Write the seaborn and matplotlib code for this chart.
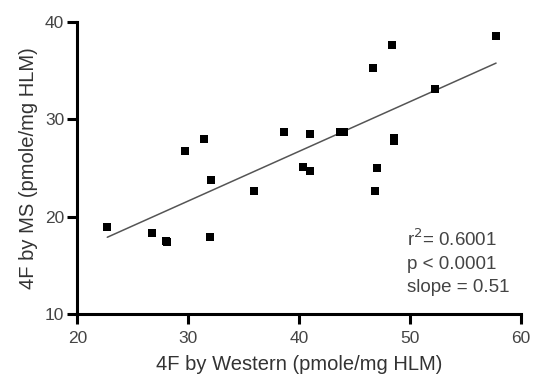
import numpy as np
import pandas as pd
import matplotlib
matplotlib.use("Agg")
import matplotlib.pyplot as plt
import seaborn as sns

# 4F measured by Western blot vs. by mass spectrometry
western = [57.75, 48.4, 46.7, 52.2, 43.7, 44.0, 41.0, 38.6, 31.4, 29.7,
           48.55, 48.55, 40.35, 40.95, 47.0, 32.05, 35.9, 46.85, 22.7, 26.7,
           27.95, 28.1, 32.0]
ms = [38.55, 37.6, 35.25, 33.1, 28.7, 28.7, 28.45, 28.7, 27.95, 26.7,
      27.8, 28.05, 25.1, 24.65, 24.95, 23.75, 22.6, 22.6, 18.9, 18.35,
      17.5, 17.4, 17.95]

# Linear regression results
r2 = 0.6001
p_text = "p < 0.0001"
slope = 0.51
intercept = 6.3

x_ticks = [20, 30, 40, 50, 60]
y_ticks = [10, 20, 30, 40]

sns.set_theme(style="ticks")
plt.rcParams["font.family"] = ["Liberation Sans", "DejaVu Sans"]

df = pd.DataFrame({"western": western, "ms": ms})

fig = plt.figure(figsize=(5.34, 3.79), dpi=100)
ax = fig.add_axes([0.1448, 0.1715, 0.8309, 0.7712])

# Fitted line over the range of the data
fx = np.array([min(western), max(western)])
fit = pd.DataFrame({"x": fx, "y": slope * fx + intercept})
sns.lineplot(data=fit, x="x", y="y", ax=ax, color="#555555", linewidth=1.1)

sns.scatterplot(data=df, x="western", y="ms", ax=ax, marker="s", s=30,
                color="black", edgecolor="black", linewidth=0, zorder=3)

ax.set_xlim(20, 60)
ax.set_ylim(10, 40)
ax.set_xticks(x_ticks)
ax.set_yticks(y_ticks)
ax.set_xlabel("4F by Western (pmole/mg HLM)", fontsize=14.5, color="#333333",
              labelpad=7)
ax.set_ylabel("4F by MS (pmole/mg HLM)", fontsize=14.5, color="#333333",
              labelpad=5)

for side in ("top", "right"):
    ax.spines[side].set_visible(False)
for side in ("left", "bottom"):
    ax.spines[side].set_linewidth(2.2)
    ax.spines[side].set_color("black")
ax.tick_params(axis="both", which="major", length=7, width=2.2,
               color="black", labelsize=12.5, labelcolor="#444444")
ax.tick_params(axis="x", pad=5)
ax.tick_params(axis="y", pad=2.5)

stats = f"r$^2$= {r2:.4f}\n{p_text}\nslope = {slope:.2f}"
ax.text(0.743, 0.178, stats, transform=ax.transAxes, fontsize=13.5,
        color="#444444", va="center", ha="left", linespacing=1.45)

fig.savefig("out.png", dpi=100)
